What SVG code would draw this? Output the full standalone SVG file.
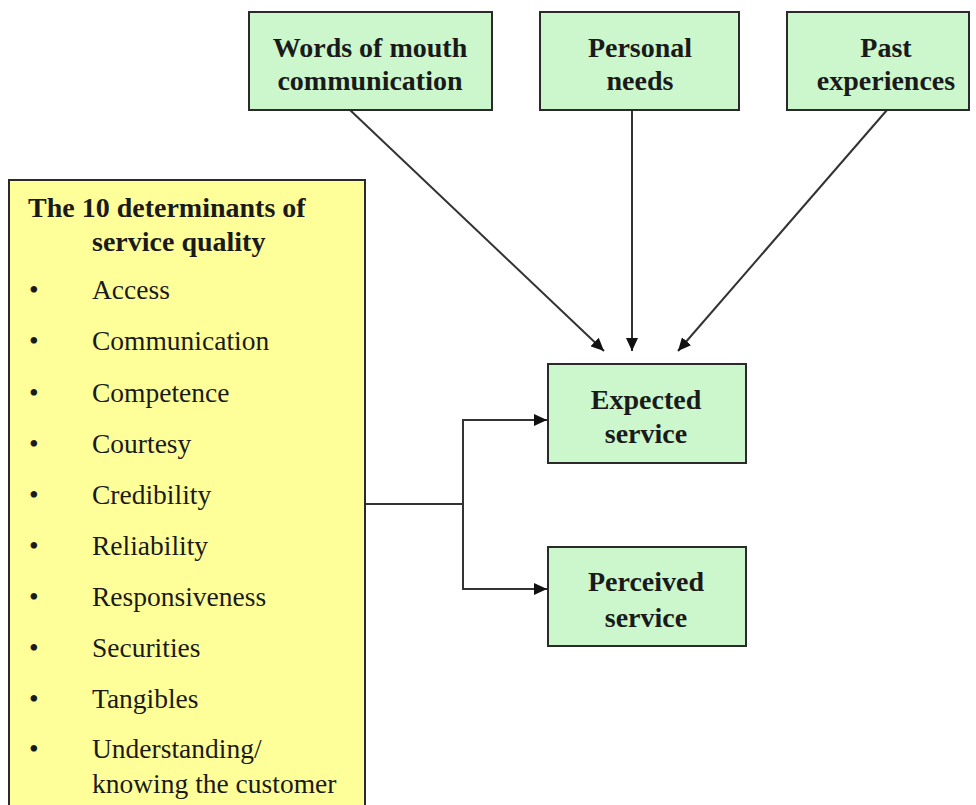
<svg xmlns="http://www.w3.org/2000/svg" width="976" height="805" viewBox="0 0 976 805">
<style>
.g{fill:#ccf7cc;stroke:#2a2a2a;stroke-width:2}
.y{fill:#ffff99;stroke:#2a2a2a;stroke-width:2}
.b{font-family:"Liberation Serif",serif;font-weight:bold;font-size:28px;fill:#1a1a1a}
.r{font-family:"Liberation Serif",serif;font-size:27.5px;fill:#1a1a1a}
.c{stroke:#333;stroke-width:2;fill:none}
</style>
<defs>
<marker id="ah" markerWidth="13" markerHeight="12" refX="13" refY="6" orient="auto" markerUnits="userSpaceOnUse" viewBox="0 0 13 12">
<path d="M0,0 L13,6 L0,12 z" fill="#111"/>
</marker>
</defs>
<rect width="976" height="805" fill="#fff"/>
<g id="connectors">
<line class="c" x1="350" y1="110" x2="604" y2="351" marker-end="url(#ah)"/>
<line class="c" x1="632" y1="110" x2="632" y2="351" marker-end="url(#ah)"/>
<line class="c" x1="887" y1="110" x2="678" y2="351" marker-end="url(#ah)"/>
<polyline class="c" points="365,504 463,504"/>
<polyline class="c" points="540,420 463,420 463,589 540,589"/>
<line class="c" x1="463" y1="420" x2="547" y2="420" marker-end="url(#ah)"/>
<line class="c" x1="463" y1="589" x2="547" y2="589" marker-end="url(#ah)"/>
</g>
<g id="words">
<rect class="g" x="249" y="12" width="243" height="98"/>
<text class="b" x="370" y="57" text-anchor="middle">Words of mouth</text>
<text class="b" x="370" y="90" text-anchor="middle">communication</text>
</g>
<g id="personal">
<rect class="g" x="540" y="12" width="199" height="98"/>
<text class="b" x="640" y="57" text-anchor="middle">Personal</text>
<text class="b" x="640" y="90" text-anchor="middle">needs</text>
</g>
<g id="past">
<rect class="g" x="787" y="12" width="182" height="98"/>
<text class="b" x="886" y="57" text-anchor="middle">Past</text>
<text class="b" x="886" y="90" text-anchor="middle">experiences</text>
</g>
<g id="expected">
<rect class="g" x="548" y="364" width="198" height="99"/>
<text class="b" x="646" y="409" text-anchor="middle">Expected</text>
<text class="b" x="646" y="443" text-anchor="middle">service</text>
</g>
<g id="perceived">
<rect class="g" x="548" y="547" width="198" height="99"/>
<text class="b" x="646" y="591" text-anchor="middle">Perceived</text>
<text class="b" x="646" y="627" text-anchor="middle">service</text>
</g>
<g id="determinants">
<rect class="y" x="9" y="180" width="356" height="640"/>
<text class="b" x="28" y="217">The 10 determinants of</text>
<text class="b" x="92" y="251">service quality</text>
<g class="r">
<text x="29" y="299">•</text><text x="92" y="299">Access</text>
<text x="29" y="350">•</text><text x="92" y="350">Communication</text>
<text x="29" y="402">•</text><text x="92" y="402">Competence</text>
<text x="29" y="453">•</text><text x="92" y="453">Courtesy</text>
<text x="29" y="504">•</text><text x="92" y="504">Credibility</text>
<text x="29" y="555">•</text><text x="92" y="555">Reliability</text>
<text x="29" y="606">•</text><text x="92" y="606">Responsiveness</text>
<text x="29" y="657">•</text><text x="92" y="657">Securities</text>
<text x="29" y="708">•</text><text x="92" y="708">Tangibles</text>
<text x="29" y="758">•</text><text x="92" y="758">Understanding/</text>
<text x="92" y="793">knowing the customer</text>
</g>
</g>
</svg>
